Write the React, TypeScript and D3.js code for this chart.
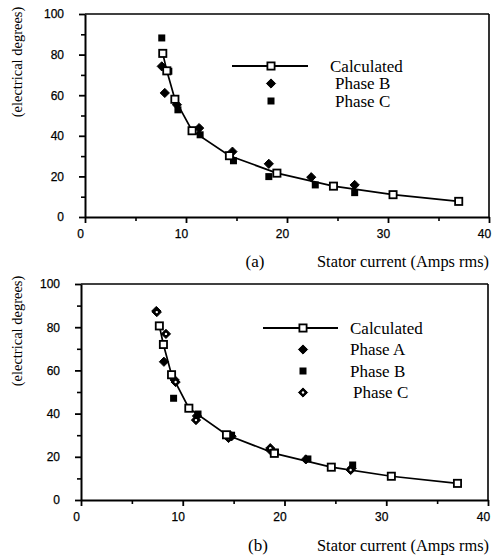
import React, { useRef, useEffect } from 'react';
import * as d3 from 'd3';

// calculated curve, same in both panels
const calcCurrent = [7.7, 8.1, 8.9, 10.6, 14.3, 19.0, 24.6, 30.5, 37.0];
const calcAngle = [80.6, 72.0, 58.0, 42.5, 30.2, 21.6, 15.2, 11.0, 7.7];

// panel (a) measurements
const aPhaseBCurrent = [7.6, 7.9, 9.1, 11.3, 14.6, 18.2, 22.4, 26.7];
const aPhaseBAngle = [74.2, 61.1, 55.3, 43.8, 32.2, 26.2, 19.6, 15.8];
const aPhaseCCurrent = [7.6, 8.3, 9.2, 11.4, 14.7, 18.2, 22.8, 26.7];
const aPhaseCAngle = [88.2, 71.8, 52.8, 40.5, 27.7, 19.9, 15.8, 12.0];

// panel (b) measurements
const bPhaseACurrent = [7.4, 8.15, 9.2, 11.4, 14.8, 18.6, 22.1, 26.6];
const bPhaseAAngle = [87.5, 64.0, 55.6, 38.9, 29.5, 23.1, 18.8, 14.7];
const bPhaseBCurrent = [9.1, 11.5, 14.8, 19.1, 22.3, 26.7];
const bPhaseBAngle = [47.1, 39.8, 30.0, 22.2, 19.0, 16.2];
const bPhaseCCurrent = [7.45, 8.35, 9.3, 11.3, 14.5, 18.6, 26.5];
const bPhaseCAngle = [87.0, 76.9, 54.6, 37.0, 28.7, 24.0, 13.9];

const xMajor = [0, 10, 20, 30, 40];
const xMinor = [5, 15, 25, 35];
const yMajor = [0, 20, 40, 60, 80, 100];
const yMinor = [10, 30, 50, 70, 90];

const SERIF = 'Liberation Serif, Times New Roman, serif';
const SANS = 'Liberation Sans, Arial, sans-serif';

const zip = (xs, ys) => xs.map((x, i) => [x, ys[i]]);

const diamondPath = (r) => `M0,${-r}L${r},0L0,${r}L${-r},0Z`;

function drawMarker(g, kind, x, y) {
  if (kind === 'calc') {
    g.append('rect').attr('x', x - 3.6).attr('y', y - 3.6).attr('width', 7.2).attr('height', 7.2)
      .attr('fill', '#fff').attr('stroke', '#000').attr('stroke-width', 1.8);
  } else if (kind === 'square') {
    g.append('rect').attr('x', x - 3.5).attr('y', y - 3.5).attr('width', 7).attr('height', 7).attr('fill', '#000');
  } else if (kind === 'diamond') {
    g.append('path').attr('d', diamondPath(4.6)).attr('transform', `translate(${x},${y})`)
      .attr('fill', '#000').attr('stroke', '#000').attr('stroke-width', 1).attr('stroke-linejoin', 'round');
  } else if (kind === 'dotDiamond') {
    g.append('path').attr('d', diamondPath(4.6)).attr('transform', `translate(${x},${y})`)
      .attr('fill', '#000').attr('stroke', '#000').attr('stroke-width', 1).attr('stroke-linejoin', 'round');
    g.append('circle').attr('cx', x).attr('cy', y).attr('r', 1.2).attr('fill', '#fff');
  }
}

function drawPanel(svg, cfg) {
  const { left, right, top, bottom, series, legend, tag } = cfg;
  const x = d3.scaleLinear().domain([0, 40]).range([left, right]);
  const y = d3.scaleLinear().domain([0, 100]).range([bottom, top]);
  const g = svg.append('g');

  // frame
  g.append('line').attr('x1', left).attr('x2', right).attr('y1', top).attr('y2', top).attr('stroke', '#000').attr('stroke-width', 1.6);
  g.append('line').attr('x1', right).attr('x2', right).attr('y1', top).attr('y2', bottom).attr('stroke', '#000').attr('stroke-width', 1.6);

  const styleAxis = (a) => {
    a.select('.domain').attr('stroke-width', 2);
    a.selectAll('.tick line').attr('stroke-width', 1.8);
    a.selectAll('text').attr('font-family', SANS).attr('font-size', 12).attr('fill', '#000')
      .attr('stroke', '#000').attr('stroke-width', 0.25);
  };

  const xa = g.append('g').attr('transform', `translate(0,${bottom})`)
    .call(d3.axisBottom(x).tickValues(xMajor).tickSize(6).tickSizeOuter(0).tickFormat(d3.format('d')).tickPadding(6));
  styleAxis(xa);
  xa.selectAll('text').attr('dx', -5);
  g.append('g').attr('transform', `translate(0,${bottom})`)
    .call(d3.axisBottom(x).tickValues(xMinor).tickSize(4).tickFormat(() => ''))
    .call((a) => { a.select('.domain').remove(); a.selectAll('.tick line').attr('stroke-width', 1.6); });

  const ya = g.append('g').attr('transform', `translate(${left},0)`)
    .call(d3.axisLeft(y).tickValues(yMajor).tickSize(6).tickSizeOuter(0).tickFormat(d3.format('d')).tickPadding(15));
  styleAxis(ya);
  g.append('g').attr('transform', `translate(${left},0)`)
    .call(d3.axisLeft(y).tickValues(yMinor).tickSize(4).tickFormat(() => ''))
    .call((a) => { a.select('.domain').remove(); a.selectAll('.tick line').attr('stroke-width', 1.6); });

  // calculated curve
  const calc = zip(calcCurrent, calcAngle);
  g.append('path').datum(calc)
    .attr('d', d3.line().x((d) => x(d[0])).y((d) => y(d[1])))
    .attr('fill', 'none').attr('stroke', '#000').attr('stroke-width', 1.7);

  series.forEach((s) => {
    zip(s.xs, s.ys).forEach((d) => drawMarker(g, s.kind, x(d[0]), y(d[1])));
  });
  calc.forEach((d) => drawMarker(g, 'calc', x(d[0]), y(d[1])));

  // legend
  const lg = g.append('g');
  legend.rows.forEach((r, i) => {
    const ly = legend.y + i * legend.step;
    if (r.kind === 'calc') {
      lg.append('line').attr('x1', legend.x1).attr('x2', legend.x2).attr('y1', ly).attr('y2', ly).attr('stroke', '#000').attr('stroke-width', 1.8);
    }
    drawMarker(lg, r.kind, legend.mx, ly);
    lg.append('text').attr('x', legend.tx + (r.indent || 0)).attr('y', ly + 5.5)
      .attr('font-family', SERIF).attr('font-size', 17).text(r.label);
  });

  // y title
  g.append('text')
    .attr('transform', `translate(${cfg.yTitleX},${cfg.yTitleY}) rotate(-90)`)
    .attr('text-anchor', 'middle')
    .attr('font-family', SERIF).attr('font-size', 14.5)
    .text('(electrical degrees)');

  // bottom captions
  g.append('text').attr('x', tag.x).attr('y', tag.y).attr('text-anchor', 'middle')
    .attr('font-family', SERIF).attr('font-size', 17).text(tag.text);
  g.append('text').attr('x', 317).attr('y', tag.y)
    .attr('font-family', SERIF).attr('font-size', 17)
    .attr('textLength', 172).attr('lengthAdjust', 'spacingAndGlyphs')
    .text('Stator current (Amps rms)');
}

export default function App() {
  const svgRef = useRef(null);

  useEffect(() => {
    if (!svgRef.current) return;
    const svg = d3.select(svgRef.current);
    svg.selectAll('*').remove();

    drawPanel(svg, {
      left: 85, right: 489, top: 14, bottom: 217,
      yTitleX: 22, yTitleY: 62,
      tag: { x: 255, y: 267, text: '(a)' },
      series: [
        { kind: 'diamond', xs: aPhaseBCurrent, ys: aPhaseBAngle },
        { kind: 'square', xs: aPhaseCCurrent, ys: aPhaseCAngle },
      ],
      legend: {
        x1: 232, x2: 308, mx: 271, tx: 330, y: 66, step: 17.5,
        rows: [
          { kind: 'calc', label: 'Calculated' },
          { kind: 'diamond', label: 'Phase B', indent: 5 },
          { kind: 'square', label: 'Phase C', indent: 5 },
        ],
      },
    });

    drawPanel(svg, {
      left: 81, right: 488, top: 284, bottom: 500,
      yTitleX: 22, yTitleY: 331,
      tag: { x: 258, y: 551, text: '(b)' },
      series: [
        { kind: 'diamond', xs: bPhaseACurrent, ys: bPhaseAAngle },
        { kind: 'square', xs: bPhaseBCurrent, ys: bPhaseBAngle },
        { kind: 'dotDiamond', xs: bPhaseCCurrent, ys: bPhaseCAngle },
      ],
      legend: {
        x1: 263, x2: 338, mx: 303, tx: 350, y: 328, step: 21.5,
        rows: [
          { kind: 'calc', label: 'Calculated' },
          { kind: 'diamond', label: 'Phase A' },
          { kind: 'square', label: 'Phase B' },
          { kind: 'dotDiamond', label: 'Phase C', indent: 3 },
        ],
      },
    });
  }, []);

  return (
    <svg ref={svgRef} width={497} height={558}
      style={{ position: 'absolute', left: 0, top: 0, background: '#fff' }} />
  );
}
